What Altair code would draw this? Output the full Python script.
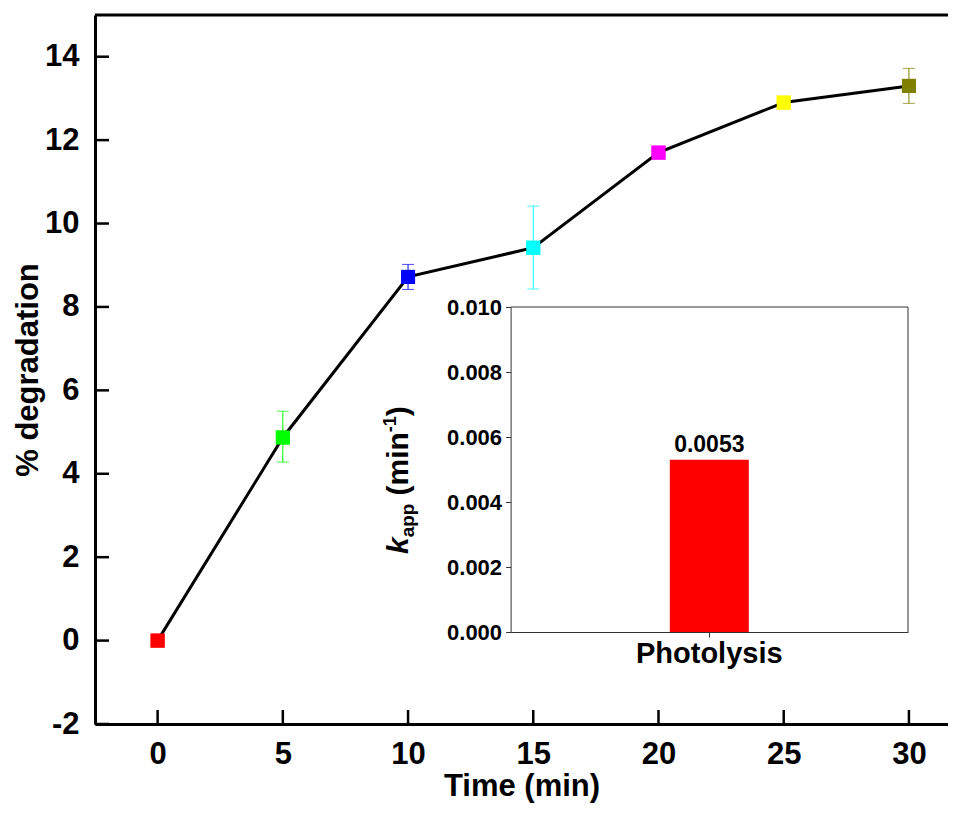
import altair as alt
import pandas as pd

# ---------------- data ----------------
times = [0, 5, 10, 15, 20, 25, 30]
degradation = [0.0, 4.87, 8.72, 9.42, 11.70, 12.90, 13.30]
err_low = [0.0, 4.28, 8.42, 8.43, 11.70, 12.90, 12.88]
err_high = [0.0, 5.50, 9.02, 10.42, 11.70, 12.90, 13.72]
colors = ["#ff0000", "#00ff00", "#0000ff", "#00ffff", "#ff00ff", "#ffff00", "#808000"]
x_ticks = [0, 5, 10, 15, 20, 25, 30]
y_ticks = [-2, 0, 2, 4, 6, 8, 10, 12, 14]
x_domain = [-2.5, 31.56]
y_domain = [-2, 15]

inset_cats = ["Photolysis"]
inset_k = [0.0053]
inset_ticks = [0.000, 0.002, 0.004, 0.006, 0.008, 0.010]
inset_domain = [0, 0.010]
inset_title_parts = [
    # text, font size, style, baseline shift (px, + = subscript), extra gap after
    ("k", 30, "italic", 0, 0),
    ("app", 19, "normal", 6, 8),
    ("(min", 30, "normal", 0, 0),
    ("-1", 18, "normal", -12, 0),
    (")", 30, "normal", 0, 0),
]

FONT = "Liberation Sans, Arial, Helvetica, sans-serif"
W, H = 853, 709

df = pd.DataFrame({"t": times, "v": degradation, "lo": err_low, "hi": err_high, "c": colors})
err_df = df[df["hi"] > df["lo"]]
xt_df = pd.DataFrame({"t": x_ticks})
yt_df = pd.DataFrame({"v": y_ticks})
ins_df = pd.DataFrame({"cat": inset_cats, "k": inset_k})

# ---------------- main plot ----------------
xs = alt.Scale(domain=x_domain, nice=False, zero=False)
ys = alt.Scale(domain=y_domain, nice=False, zero=False)

lab = dict(labelFont=FONT, labelFontWeight="bold", labelColor="black")
tit = dict(titleFont=FONT, titleFontWeight="bold", titleColor="black")

x_axis = alt.Axis(orient="bottom", values=x_ticks, tickSize=0, labelFontSize=31, labelPadding=15,
                  title="Time (min)", titleFontSize=31, titlePadding=2, domainColor="black",
                  domainWidth=3, grid=False, labelFlush=False, **lab, **tit)
y_axis = alt.Axis(orient="left", values=y_ticks, tickSize=0, labelFontSize=31, labelPadding=16,
                  labelExpr="'' + datum.value",
                  title="% degradation", titleFontSize=31, titlePadding=0, domainColor="black",
                  domainWidth=3, grid=False, labelFlush=False, **lab, **tit)

pts = alt.Chart(df).mark_square(size=196, opacity=1).encode(
    x=alt.X("t:Q", scale=xs, axis=x_axis),
    y=alt.Y("v:Q", scale=ys, axis=y_axis),
    color=alt.Color("c:N", scale=None),
)
err = alt.Chart(err_df).mark_rule(strokeWidth=1).encode(
    x="t:Q", y="lo:Q", y2="hi:Q", color=alt.Color("c:N", scale=None))
caps_lo = alt.Chart(err_df).mark_tick(orient="horizontal", size=12, thickness=1).encode(
    x="t:Q", y="lo:Q", color=alt.Color("c:N", scale=None))
caps_hi = alt.Chart(err_df).mark_tick(orient="horizontal", size=12, thickness=1).encode(
    x="t:Q", y="hi:Q", color=alt.Color("c:N", scale=None))
line = alt.Chart(df).mark_line(color="black", strokeWidth=3).encode(x="t:Q", y="v:Q")
xt = alt.Chart(xt_df).mark_rule(color="black", strokeWidth=2.5).encode(
    x="t:Q", y=alt.value(H), y2=alt.value(H - 14))
yt = alt.Chart(yt_df).mark_rule(color="black", strokeWidth=2.5).encode(
    y="v:Q", x=alt.value(0), x2=alt.value(14))
top_line = alt.Chart(pd.DataFrame({"v": [y_domain[1]]})).mark_rule(
    color="black", strokeWidth=3).encode(y="v:Q", x=alt.value(0), x2=alt.value(W))

main = alt.layer(pts, err, caps_lo, caps_hi, line, pts, xt, yt, top_line)

# ---------------- inset ----------------
IX0, IX1 = 415.6, 813
IY0, IY1 = 617, 292
ixs = alt.Scale(type="band", domain=inset_cats, range=[IX0, IX1], paddingInner=0, paddingOuter=0)
iys = alt.Scale(domain=inset_domain, range=[IY0, IY1], nice=False, zero=True)

ins_x_axis = alt.Axis(orient="bottom", offset=-(H - IY0), tickSize=5, tickColor="#333", tickWidth=1,
                      domainColor="#333", domainWidth=1, labelFontSize=29, labelPadding=2,
                      labelAngle=0, bandPosition=0.5, title=None, grid=False, **lab)
ins_y_axis = alt.Axis(orient="left", offset=-IX0, values=inset_ticks, format=".3f", tickSize=5,
                      tickColor="#333", tickWidth=1, domainColor="#333", domainWidth=1,
                      labelFontSize=22, labelPadding=4, title=None, grid=False, labelFlush=False, **lab)

bar = alt.Chart(ins_df).mark_bar(size=79, color="#ff0000").encode(
    x=alt.X("cat:N", scale=ixs, axis=ins_x_axis),
    y=alt.Y("k:Q", scale=iys, axis=ins_y_axis),
)
val = alt.Chart(ins_df).mark_text(dy=-3, baseline="bottom", fontSize=23, fontWeight="bold",
                                  font=FONT, color="black").encode(
    x="cat:N", y="k:Q", text=alt.Text("k:Q", format=".4f"))
frame_top = alt.Chart(pd.DataFrame({"k": [inset_domain[1]]})).mark_rule(
    color="#333", strokeWidth=1).encode(y="k:Q", x=alt.value(IX0), x2=alt.value(IX1))
frame_right = alt.Chart(pd.DataFrame({"k": [inset_domain[0]], "k2": [inset_domain[1]]})).mark_rule(
    color="#333", strokeWidth=1).encode(y="k:Q", y2="k2:Q", x=alt.value(IX1))

# rotated inset y title built from pieces (k italic, app subscript, -1 superscript)
wmap = {"k": 0.556, "a": 0.556, "p": 0.611, " ": 0.278, "(": 0.333, "m": 0.889,
        "i": 0.278, "n": 0.611, "-": 0.333, "1": 0.556, ")": 0.333}
title_layers = []
ty = 539.0
tx = 313.0
for txt, fs, style, shift, gap in inset_title_parts:
    adv = sum(wmap[ch] for ch in txt) * fs
    title_layers.append(
        alt.Chart(pd.DataFrame({"s": [txt]})).mark_text(
            angle=270, align="left", baseline="alphabetic", fontSize=fs, fontWeight="bold",
            fontStyle=style, font=FONT, color="black").encode(
            x=alt.value(tx + shift), y=alt.value(ty), text="s:N"))
    ty -= adv + gap

inset = alt.layer(bar, val, frame_top, frame_right, *title_layers)

chart = alt.layer(main, inset).resolve_scale(x="independent", y="independent").properties(
    width=W, height=H,
    autosize=alt.AutoSizeParams(type="none"),
    padding={"left": 87, "top": 7, "right": 0, "bottom": 81},
).configure_view(stroke=None).configure_axis(grid=False)

chart.save("out.html", embed_options={"renderer": "svg", "actions": False})
